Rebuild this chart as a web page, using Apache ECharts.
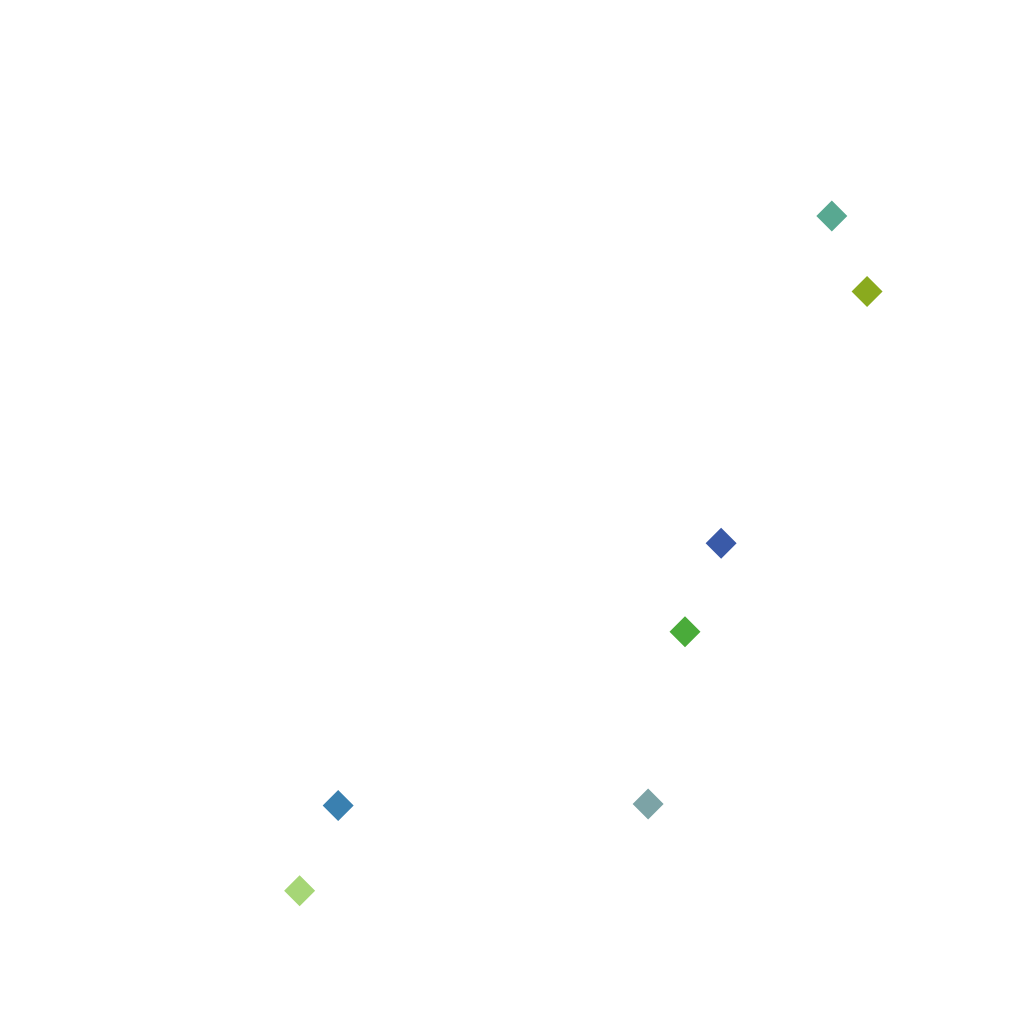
<!DOCTYPE html>
<html>
<head>
<meta charset="utf-8">
<script src="https://cdn.jsdelivr.net/npm/echarts@6/dist/echarts.min.js"></script>
<style>html,body{margin:0;padding:0;background:#fff}#c{width:1024px;height:1024px}</style>
</head>
<body>
<div id="c"></div>
<script>
const names = ['A', 'B', 'C', 'D', 'E', 'F', 'G'];
const xValues = [89.0, 93.3, 75.5, 71.1, 66.6, 28.8, 24.1];
const yValues = [86.1, 76.9, 46.2, 35.4, 14.4, 14.2, 3.8];
const colors = ['#58a891', '#8aaa1e', '#3a5aa8', '#4aab3a', '#7ca3a6', '#3a80b0', '#a6d676'];

const chart = echarts.init(document.getElementById('c'));
chart.setOption({
  animation: false,
  backgroundColor: '#ffffff',
  grid: { left: 102, right: 102, top: 102, bottom: 102 },
  xAxis: { type: 'value', min: 0, max: 100, show: false },
  yAxis: { type: 'value', min: 0, max: 100, show: false },
  series: [{
    type: 'scatter',
    symbol: 'diamond',
    symbolSize: 31,
    itemStyle: { opacity: 1 },
    data: names.map((n, i) => ({
      name: n,
      value: [xValues[i], yValues[i]],
      itemStyle: { color: colors[i], opacity: 1 }
    }))
  }]
});
</script>
</body>
</html>
